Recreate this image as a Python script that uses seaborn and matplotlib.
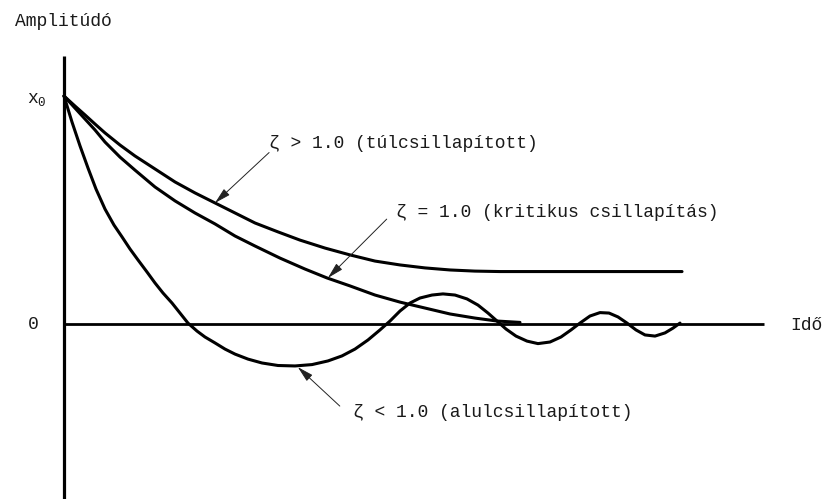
import matplotlib
matplotlib.use("Agg")
import matplotlib.pyplot as plt
import seaborn as sns
import pandas as pd

sns.set_style("white")
plt.rcParams["font.family"] = ["Liberation Mono", "DejaVu Sans Mono"]

# Time axis (Idő) and amplitude readings for the three damping cases
t_over = [0.0, 0.157, 0.3, 0.443, 0.586, 0.8, 1.014, 1.3, 1.586, 1.871, 2.157, 2.443,
          2.729, 3.057, 3.371, 3.729, 4.086, 4.443, 4.8, 5.157, 5.514, 5.871, 6.229, 8.829]
a_over = [1.0, 0.956, 0.917, 0.877, 0.838, 0.785, 0.737, 0.680, 0.623, 0.575, 0.531, 0.487,
          0.443, 0.404, 0.368, 0.333, 0.303, 0.276, 0.259, 0.246, 0.237, 0.232, 0.230, 0.230]

t_crit = [0.0, 0.157, 0.3, 0.443, 0.586, 0.8, 1.014, 1.3, 1.586, 1.871, 2.157, 2.443,
          2.729, 3.086, 3.443, 3.757, 4.086, 4.443, 4.8, 5.157, 5.514, 5.871, 6.186, 6.514]
a_crit = [1.0, 0.947, 0.899, 0.851, 0.798, 0.732, 0.675, 0.601, 0.540, 0.487, 0.439, 0.386,
          0.342, 0.289, 0.241, 0.202, 0.167, 0.127, 0.096, 0.070, 0.044, 0.026, 0.013, 0.007]

t_under = [0.0, 0.114, 0.229, 0.343, 0.457, 0.586, 0.714, 0.829, 0.943, 1.057, 1.186, 1.3,
           1.414, 1.543, 1.657, 1.771, 1.9, 2.014, 2.157, 2.3, 2.443, 2.629, 2.829, 3.057,
           3.3, 3.543, 3.771, 3.971, 4.157, 4.343, 4.514, 4.657, 4.8, 4.943, 5.086, 5.257,
           5.414, 5.586, 5.757, 5.914, 6.057, 6.186, 6.314, 6.457, 6.614, 6.771, 6.943, 7.1,
           7.243, 7.371, 7.514, 7.657, 7.786, 7.914, 8.043, 8.171, 8.3, 8.443, 8.586, 8.7, 8.8]
a_under = [1.0, 0.886, 0.781, 0.684, 0.592, 0.504, 0.434, 0.382, 0.329, 0.281, 0.228, 0.180,
           0.136, 0.092, 0.048, 0.004, -0.031, -0.057, -0.083, -0.110, -0.132, -0.154, -0.171, -0.182,
           -0.184, -0.178, -0.162, -0.140, -0.110, -0.070, -0.026, 0.013, 0.057, 0.092, 0.114, 0.127,
           0.132, 0.127, 0.110, 0.083, 0.048, 0.013, -0.022, -0.053, -0.075, -0.086, -0.079, -0.057,
           -0.026, 0.004, 0.035, 0.050, 0.048, 0.031, 0.004, -0.026, -0.048, -0.053, -0.039, -0.018, 0.004]

labels = ["ζ > 1.0 (túlcsillapított)",
          "ζ = 1.0 (kritikus csillapítás)",
          "ζ < 1.0 (alulcsillapított)"]

fig = plt.figure(figsize=(8.23, 4.99), dpi=100)
ax = fig.add_axes([0, 0, 1, 1])
ax.set_xlim(-64 / 70, (823 - 64) / 70)
ax.set_ylim((324 - 499) / 228, 324 / 228)
ax.axis("off")

# Coordinate axes
ax.plot([0, 0], [-0.8, 1.175], color="black", lw=2.3, solid_capstyle="butt")
ax.plot([0, 10.0], [0, 0], color="black", lw=2.0, solid_capstyle="butt")

for tt, aa in [(t_over, a_over), (t_crit, a_crit), (t_under, a_under)]:
    df = pd.DataFrame({"t": tt, "a": aa})
    sns.lineplot(data=df, x="t", y="a", sort=False, estimator=None,
                 color="black", lw=2.2, ax=ax)
ax.set_xlabel("")
ax.set_ylabel("")

txt = dict(color="#1a1a1a", fontsize=13, va="center", ha="left")
ax.text(-0.70, 1.325, "Amplitúdó", **txt)
ax.text(-0.53, 0.985, r"$\mathregular{x_0}$", **txt)
ax.text(-0.52, -0.004, "0", **txt)
ax.text(10.38, -0.008, "Idő", **txt)

arrow = dict(arrowstyle="-|>,head_length=0.7,head_width=0.18", color="#222222",
             lw=0.7, shrinkA=0, shrinkB=0, mutation_scale=14)
ax.text(2.93, 0.79, labels[0], **txt)
ax.annotate("", xy=(2.157, 0.531), xytext=(2.93, 0.752), arrowprops=arrow)
ax.text(4.74, 0.487, labels[1], **txt)
ax.annotate("", xy=(3.77, 0.202), xytext=(4.61, 0.46), arrowprops=arrow)
ax.text(4.13, -0.386, labels[2], **txt)
ax.annotate("", xy=(3.34, -0.189), xytext=(3.94, -0.36), arrowprops=arrow)

fig.savefig("out.png", dpi=100)
